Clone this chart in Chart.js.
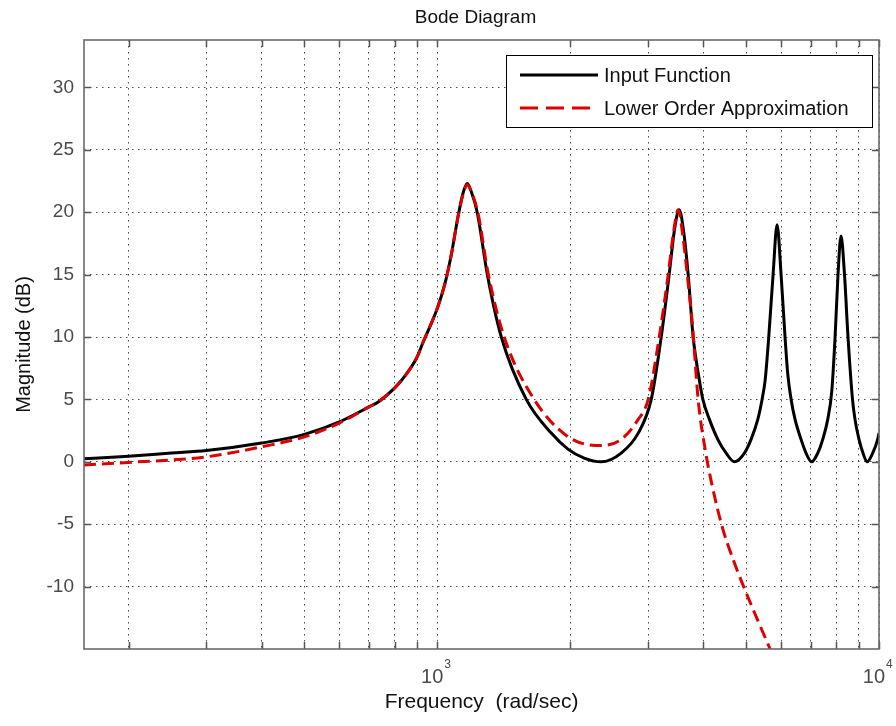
<!DOCTYPE html>
<html>
<head>
<meta charset="utf-8">
<script src="https://cdn.jsdelivr.net/npm/chart.js@4.4.1/dist/chart.umd.min.js"></script>
<style>
  html, body { margin: 0; padding: 0; background: #fff; }
  canvas { display: block; }
</style>
</head>
<body>
<canvas id="bode" width="896" height="726"></canvas>
<script>
// values (rad/sec, dB)
const inputFreq = [158.5, 200, 250, 300, 400, 500, 600, 700, 735, 800, 850, 900, 929, 1000, 1040, 1075, 1116, 1145, 1169, 1195, 1231, 1298, 1396, 1590, 1811, 1979, 2150, 2350, 2608, 2850, 3050, 3213, 3349, 3440, 3528, 3610, 3698, 3795, 3922, 3992, 4131, 4315, 4507, 4705, 4958, 5133, 5316, 5436, 5522, 5628, 5757, 5878, 6002, 6127, 6216, 6324, 6456, 6660, 6836, 7042, 7266, 7459, 7655, 7815, 7954, 8076, 8204, 8354, 8508, 8710, 8824, 9010, 9200, 9395, 9676, 9931, 10000];
const inputMag = [0.25, 0.45, 0.7, 0.9, 1.5, 2.2, 3.2, 4.4, 4.8, 5.9, 7.0, 8.4, 9.6, 12.3, 14.25, 16.55, 19.8, 21.6, 22.3, 21.6, 20.0, 15.0, 10.0, 5.0, 2.3, 1.0, 0.3, 0.0, 0.7, 2.3, 5.0, 10.0, 15.0, 18.5, 20.2, 18.5, 15.0, 10.0, 6.5, 5.0, 3.4, 1.8, 0.7, 0.0, 0.7, 1.8, 3.4, 5.0, 6.5, 10.0, 15.0, 19.0, 15.0, 10.0, 7.0, 5.0, 3.4, 1.8, 0.7, 0.0, 0.7, 1.8, 3.4, 5.6, 10.0, 15.0, 18.1, 15.0, 10.0, 5.0, 3.4, 1.8, 0.7, 0.0, 0.7, 1.8, 2.3];

const approxFreq = [158.5, 200, 300, 400, 500, 600, 700, 735, 800, 850, 900, 929, 1000, 1040, 1075, 1116, 1145, 1169, 1195, 1235, 1305, 1417, 1657, 1979, 2350, 2608, 2850, 3002, 3180, 3332, 3430, 3510, 3600, 3680, 3780, 3895, 4063, 4190, 4414, 4660, 4950, 5300, 5668];
const approxMag = [-0.25, -0.05, 0.4, 1.2, 2.0, 3.1, 4.4, 4.8, 5.9, 7.0, 8.4, 9.6, 12.3, 14.25, 16.55, 19.8, 21.5, 22.2, 21.6, 20.0, 15.0, 10.0, 5.0, 2.0, 1.3, 1.8, 3.4, 5.0, 10.0, 15.0, 18.5, 20.2, 18.0, 15.0, 11.0, 5.0, 0.5, -1.9, -5.2, -7.7, -10.1, -12.6, -15.0];

const magTicks = [-10, -5, 0, 5, 10, 15, 20, 25, 30];
const freqGrid = [200, 300, 400, 500, 600, 700, 800, 900, 1000, 2000, 3000, 4000, 5000, 6000, 7000, 8000, 9000, 10000];
const freqLabels = [1000, 10000];

const FONT = '"Liberation Sans", Arial, Helvetica, sans-serif';

function pairs(xs, ys) {
  return xs.map((x, i) => ({ x: x, y: ys[i] }));
}

const matlabFrame = {
  id: 'matlabFrame',
  afterDraw(chart) {
    const ctx = chart.ctx;
    const a = chart.chartArea;
    const xs = chart.scales.x;
    const ys = chart.scales.y;
    ctx.save();
    ctx.setLineDash([]);

    // inward tick marks
    ctx.strokeStyle = '#555';
    ctx.lineWidth = 1.5;
    ctx.beginPath();
    magTicks.forEach(v => {
      const py = Math.round(ys.getPixelForValue(v)) + 0.5;
      ctx.moveTo(a.left, py); ctx.lineTo(a.left + 7, py);
      ctx.moveTo(a.right, py); ctx.lineTo(a.right - 7, py);
    });
    freqGrid.forEach(f => {
      const px = Math.round(xs.getPixelForValue(f)) + 0.5;
      ctx.moveTo(px, a.top); ctx.lineTo(px, a.top + 7);
      ctx.moveTo(px, a.bottom); ctx.lineTo(px, a.bottom - 7);
    });
    ctx.stroke();

    // axes box
    ctx.strokeStyle = '#6a6a6a';
    ctx.lineWidth = 1.6;
    ctx.strokeRect(a.left, a.top, a.right - a.left, a.bottom - a.top);

    // title, centred a little left of the axes middle as in the figure
    ctx.fillStyle = '#111';
    ctx.font = '19px ' + FONT;
    ctx.textAlign = 'center';
    ctx.textBaseline = 'middle';
    ctx.fillText('Bode Diagram', (a.left + a.right) / 2 - 6, 18);

    // decade labels 10^n
    ctx.fillStyle = '#4a4a4a';
    ctx.textBaseline = 'alphabetic';
    freqLabels.forEach(f => {
      const px = xs.getPixelForValue(f);
      ctx.font = '20px ' + FONT;
      ctx.textAlign = 'right';
      ctx.fillText('10', px + 6, a.bottom + 34);
      ctx.font = '12px ' + FONT;
      ctx.textAlign = 'left';
      ctx.fillText(String(Math.round(Math.log10(f))), px + 7, a.bottom + 19);
    });

    // legend box, top right inside the axes
    const w = 366, h = 72;
    const lx = a.right - 7 - w, ly = a.top + 15;
    ctx.fillStyle = '#fff';
    ctx.fillRect(lx, ly, w, h);
    ctx.strokeStyle = '#000';
    ctx.lineWidth = 1;
    ctx.strokeRect(lx + 0.5, ly + 0.5, w, h);
    const rows = [chart.data.datasets[0], chart.data.datasets[1]];
    rows.forEach((ds, i) => {
      const ry = ly + 20 + i * 33;
      ctx.strokeStyle = ds.borderColor;
      ctx.lineWidth = ds.borderWidth;
      ctx.setLineDash(ds.borderDash ? [18, 8] : []);
      ctx.beginPath();
      ctx.moveTo(lx + 14, ry);
      ctx.lineTo(lx + 92, ry);
      ctx.stroke();
      ctx.setLineDash([]);
      ctx.fillStyle = '#111';
      ctx.font = '20px ' + FONT;
      ctx.textAlign = 'left';
      ctx.textBaseline = 'middle';
      ctx.fillText(ds.label, lx + 98, ry + 1);
    });
    ctx.restore();
  }
};

const gridStyle = { color: 'rgba(45,45,45,0.85)', lineWidth: 1, drawTicks: false };

new Chart(document.getElementById('bode'), {
  type: 'line',
  data: {
    datasets: [
      {
        label: 'Input Function',
        data: pairs(inputFreq, inputMag),
        borderColor: '#000',
        borderWidth: 3,
        pointRadius: 0,
        cubicInterpolationMode: 'monotone',
        order: 2
      },
      {
        label: 'Lower Order Approximation',
        data: pairs(approxFreq, approxMag),
        borderColor: '#dd0000',
        borderWidth: 3,
        borderDash: [12, 6],
        pointRadius: 0,
        cubicInterpolationMode: 'monotone',
        order: 1
      }
    ]
  },
  options: {
    responsive: false,
    animation: false,
    layout: { padding: { left: 0, right: 17, top: 40, bottom: 0 } },
    scales: {
      x: {
        type: 'logarithmic',
        min: 158.5,
        max: 10000,
        afterBuildTicks: s => { s.ticks = freqGrid.map(v => ({ value: v })); },
        afterFit: s => { s.height = 77; },
        grid: gridStyle,
        border: { display: false, dash: [1.5, 4.5] },
        ticks: { display: false },
        title: {
          display: true,
          text: 'Frequency  (rad/sec)',
          color: '#111',
          font: { family: FONT, size: 21 },
          padding: { top: 0, bottom: 11 }
        }
      },
      y: {
        type: 'linear',
        min: -15,
        max: 33.8,
        afterBuildTicks: s => { s.ticks = magTicks.map(v => ({ value: v })); },
        afterFit: s => { s.width = 84; },
        grid: gridStyle,
        border: { display: false, dash: [1.5, 4.5] },
        ticks: { color: '#4a4a4a', font: { family: FONT, size: 19 }, padding: 10 },
        title: {
          display: true,
          text: 'Magnitude (dB)',
          color: '#111',
          font: { family: FONT, size: 20 },
          padding: { top: 12, bottom: 0 }
        }
      }
    },
    plugins: {
      legend: { display: false },
      tooltip: { enabled: false },
      title: { display: false }
    }
  },
  plugins: [matlabFrame]
});
</script>
</body>
</html>
